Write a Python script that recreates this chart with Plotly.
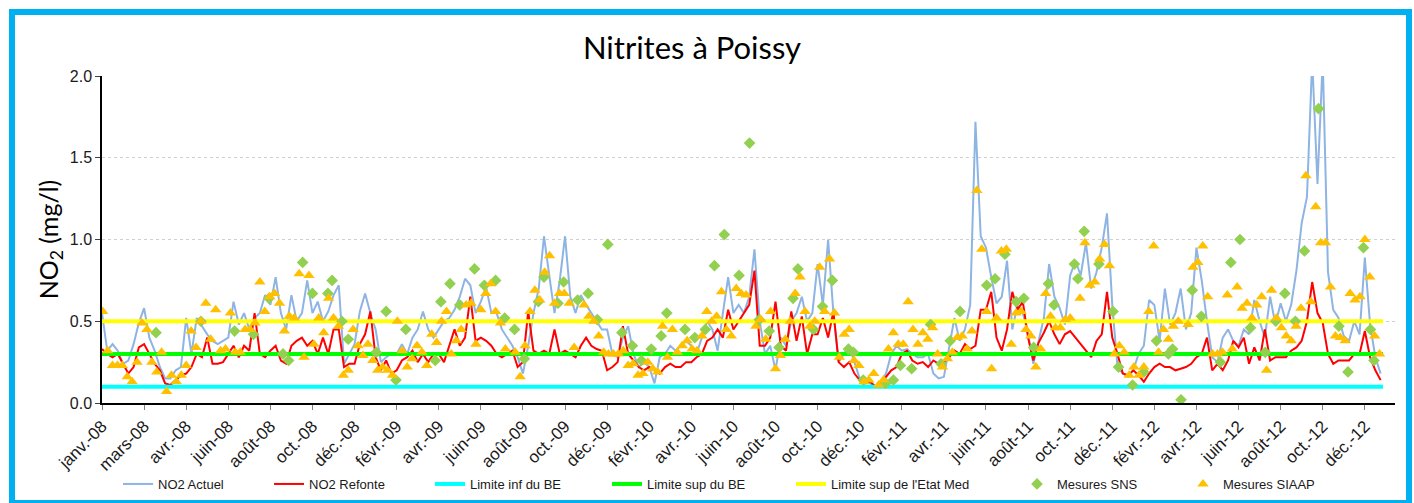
import pandas as pd
import plotly.graph_objects as go

# ---------------- DATA ----------------
start = pd.Timestamp("2008-01-01")

no2_actuel = [
    0.55, 0.32, 0.36, 0.32, 0.24, 0.26, 0.36, 0.49,
    0.58, 0.40, 0.32, 0.22, 0.15, 0.15, 0.20, 0.22,
    0.52, 0.30, 0.52, 0.47, 0.42, 0.38, 0.36, 0.38,
    0.40, 0.62, 0.48, 0.55, 0.45, 0.52, 0.55, 0.66,
    0.60, 0.77, 0.55, 0.45, 0.66, 0.50, 0.55, 0.75,
    0.55, 0.62, 0.50, 0.56, 0.66, 0.72, 0.24, 0.30,
    0.36, 0.56, 0.67, 0.55, 0.45, 0.25, 0.28, 0.30,
    0.30, 0.36, 0.30, 0.40, 0.45, 0.56, 0.45, 0.40,
    0.45, 0.50, 0.52, 0.57, 0.65, 0.76, 0.72, 0.55,
    0.62, 0.71, 0.55, 0.55, 0.45, 0.40, 0.35, 0.28,
    0.18, 0.35, 0.55, 0.70, 1.02, 0.78, 0.55, 0.75,
    1.02, 0.65, 0.55, 0.66, 0.60, 0.55, 0.50, 0.45,
    0.45, 0.30, 0.28, 0.40, 0.47, 0.30, 0.22, 0.25,
    0.22, 0.12, 0.28, 0.30, 0.35, 0.32, 0.35, 0.38,
    0.35, 0.30, 0.40, 0.50, 0.45, 0.32, 0.55, 0.77,
    0.55, 0.60, 0.55, 0.65, 0.94, 0.50, 0.30, 0.35,
    0.20, 0.40, 0.35, 0.50, 0.55, 0.65, 0.50, 0.55,
    0.85, 0.60, 1.00, 0.55, 0.25, 0.30, 0.35, 0.25,
    0.15, 0.14, 0.12, 0.10, 0.13, 0.18, 0.30, 0.35,
    0.32, 0.33, 0.30, 0.28, 0.28, 0.30, 0.18, 0.15,
    0.16, 0.35, 0.52, 0.38, 0.45, 0.60, 1.72, 1.02,
    0.95, 0.77, 0.61, 0.65, 0.87, 0.45, 0.60, 0.55,
    0.42, 0.24, 0.38, 0.52, 0.85, 0.65, 0.58, 0.48,
    0.78, 0.87, 0.78, 0.98, 0.70, 0.80, 0.95, 1.16,
    0.60, 0.22, 0.18, 0.16, 0.20, 0.30, 0.35, 0.63,
    0.60, 0.38, 0.70, 0.48, 0.55, 0.70, 0.45, 0.55,
    0.95, 0.75, 0.50, 0.28, 0.25, 0.40, 0.45, 0.38,
    0.35, 0.45, 0.42, 0.63, 0.50, 0.40, 0.65, 0.48,
    0.61, 0.50, 0.60, 0.81, 1.10, 1.26, 2.10, 1.34,
    2.10, 0.80, 0.57, 0.52, 0.41, 0.38, 0.50, 0.42,
    0.89, 0.48, 0.28, 0.18,
]

no2_refonte = [
    0.33, 0.30, 0.28, 0.30, 0.24, 0.18, 0.22, 0.34,
    0.36, 0.30, 0.24, 0.20, 0.12, 0.11, 0.14, 0.17,
    0.18, 0.22, 0.30, 0.28, 0.40, 0.24, 0.24, 0.25,
    0.30, 0.35, 0.28, 0.35, 0.32, 0.55, 0.30, 0.28,
    0.32, 0.35, 0.26, 0.24, 0.35, 0.38, 0.40, 0.35,
    0.38, 0.30, 0.40, 0.30, 0.45, 0.45, 0.22, 0.24,
    0.24, 0.36, 0.42, 0.56, 0.28, 0.20, 0.26, 0.18,
    0.20, 0.26, 0.28, 0.32, 0.25, 0.30, 0.25, 0.30,
    0.30, 0.25, 0.35, 0.45, 0.35, 0.40, 0.65, 0.38,
    0.40, 0.38, 0.35, 0.30, 0.28, 0.30, 0.32, 0.22,
    0.25, 0.56, 0.32, 0.30, 0.32, 0.30, 0.45, 0.30,
    0.32, 0.30, 0.28, 0.35, 0.40, 0.35, 0.33, 0.32,
    0.20, 0.22, 0.25, 0.47, 0.30, 0.26, 0.22, 0.20,
    0.22, 0.20, 0.18, 0.22, 0.24, 0.22, 0.22, 0.25,
    0.25, 0.28, 0.30, 0.38, 0.40, 0.45, 0.40, 0.57,
    0.45, 0.50, 0.55, 0.60, 0.81, 0.35, 0.35, 0.40,
    0.62, 0.35, 0.32, 0.56, 0.38, 0.53, 0.30, 0.42,
    0.42, 0.52, 0.40, 0.56, 0.25, 0.22, 0.25, 0.18,
    0.14, 0.12, 0.13, 0.10, 0.12, 0.16, 0.20, 0.22,
    0.30, 0.32, 0.26, 0.24, 0.25, 0.22, 0.26, 0.24,
    0.25, 0.28, 0.32, 0.30, 0.36, 0.33, 0.35, 0.57,
    0.57, 0.68, 0.40, 0.32, 0.45, 0.68, 0.57, 0.62,
    0.40, 0.26, 0.37, 0.43, 0.50, 0.42, 0.36, 0.42,
    0.44, 0.40, 0.36, 0.32, 0.28, 0.38, 0.42, 0.68,
    0.40, 0.30, 0.18, 0.17, 0.20, 0.17, 0.13, 0.18,
    0.22, 0.24, 0.22, 0.22, 0.20, 0.21, 0.22, 0.24,
    0.28, 0.30, 0.40, 0.20, 0.24, 0.20, 0.26, 0.38,
    0.34, 0.40, 0.24, 0.34, 0.26, 0.45, 0.26, 0.28,
    0.28, 0.28, 0.32, 0.34, 0.38, 0.50, 0.74, 0.55,
    0.49, 0.30, 0.24, 0.26, 0.26, 0.26, 0.30, 0.30,
    0.44, 0.28, 0.20, 0.14,
]

# SIAAP weekly measurements from 2008-01-02 (None = no reading)
siaap_values = [
    0.56, 0.32, 0.23, 0.23, 0.23, 0.16, 0.13, 0.25, 0.49, 0.45,
    0.25, 0.19, 0.31, 0.07, 0.17, 0.13, 0.17, 0.23, 0.44, 0.34,
    0.50, 0.61, 0.39, 0.57, 0.32, 0.33, 0.55, 0.31, 0.31, 0.45,
    0.45, 0.49, 0.74, 0.56, 0.65, 0.67, 0.61, 0.44, 0.53, 0.52,
    0.79, 0.28, 0.78, 0.36, 0.52, 0.43, 0.64, 0.52, 0.47, 0.17,
    0.20, 0.45, 0.35, 0.29, 0.36, 0.26, 0.20, 0.22, 0.20, 0.17,
    0.50, 0.32, 0.22, 0.27, 0.35, 0.31, 0.23, 0.42, 0.37, 0.50,
    0.56, 0.30, 0.38, 0.45, 0.60, 0.61, 0.36, 0.57, 0.67, 0.73,
    0.56, 0.49, 0.33, None, 0.31, 0.16, 0.35, 0.56, 0.69, 0.63,
    0.80, 0.90, 0.61, 0.67, 0.67, 0.61, 0.34, None, 0.60, 0.53,
    0.50, 0.41, 0.31, 0.30, 0.30, 0.30, 0.32, 0.23, 0.24, 0.17,
    0.18, 0.25, 0.21, 0.19, 0.47, 0.28, 0.45, 0.31, 0.35, 0.38,
    0.33, 0.32, 0.41, 0.56, 0.50, 0.53, 0.68, 0.45, 0.41, 0.70,
    0.67, 0.66, None, 0.47, 0.51, 0.39, 0.56, 0.21, 0.29, 0.39,
    0.50, 0.67, 0.77, 0.56, 0.47, 0.50, 0.83, 0.56, 0.88, 0.55,
    0.28, 0.42, 0.45, 0.26, 0.23, 0.13, 0.14, 0.18, 0.11, 0.14,
    0.33, 0.43, 0.36, 0.36, 0.62, 0.45, 0.36, 0.43, 0.39, 0.46,
    0.30, 0.22, 0.27, 0.31, 0.40, 0.41, 0.33, 0.44, 1.30, 0.94,
    0.56, 0.21, 0.52, 0.93, 0.94, 0.36, 0.55, 0.56, 0.45, 0.41,
    0.22, 0.33, 0.67, 0.53, 0.46, 0.46, 0.51, 0.52, None, 0.64,
    0.98, 0.72, 0.74, 0.88, 0.97, 0.84, 0.30, 0.35, 0.31, 0.17,
    0.22, 0.17, 0.22, 0.56, 0.96, 0.31, 0.45, 0.39, 0.47, 0.50,
    None, 0.48, 0.83, 0.86, 0.96, 0.65, 0.30, 0.30, 0.31, 0.66,
    0.33, 0.71, 0.58, 0.61, 0.52, 0.60, 0.65, 0.20, 0.69, 0.52,
    0.46, 0.41, 0.38, 0.47, 0.58, 1.39, 0.62, 1.20, 0.98, 0.98,
    0.71, 0.41, 0.40, 0.38, 0.67, 0.63, 0.65, 1.00, 0.77, 0.41,
    0.30,
]

# SNS measurements: day number since 2008-01-01 and value
sns_days = [
    77, 141, 189, 216, 238, 258, 266, 286, 300, 322, 328, 342, 351,
    391, 405, 419, 433, 475, 483, 496, 510, 531, 545, 561, 574, 588, 602,
    622, 630, 650, 658, 678, 693, 706, 721,
    741, 756, 769, 783, 797, 805, 831, 845, 860, 873, 887, 908, 923, 937,
    951, 965, 985, 992, 1014, 1027, 1041, 1064, 1071, 1085,
    1117, 1128, 1138, 1154, 1181, 1196, 1209, 1223, 1261, 1273, 1287, 1303,
    1314, 1328, 1349, 1357, 1386, 1391, 1400, 1421, 1441, 1449,
    1469, 1485, 1503, 1520, 1526, 1538, 1554, 1567, 1594, 1609, 1622, 1637,
    1658, 1673, 1686, 1701, 1714, 1734, 1763, 1776, 1798, 1808, 1813,
]
sns_values = [
    0.43, 0.50, 0.44, 0.42, 0.64, 0.30, 0.26, 0.86, 0.67, 0.67, 0.75, 0.50, 0.39,
    0.31, 0.56, 0.14, 0.45, 0.26, 0.62, 0.73, 0.60, 0.82, 0.72, 0.75, 0.52, 0.45, 0.27,
    0.62, 0.77, 0.61, 0.74, 0.63, 0.67, 0.51, 0.97,
    0.43, 0.35, 0.26, 0.33, 0.41, 0.55, 0.45, 0.40, 0.45, 0.84, 1.03, 0.78, 1.59, 0.51,
    0.44, 0.34, 0.64, 0.82, 0.45, 0.59, 0.75, 0.33, 0.31, 0.14,
    0.12, 0.14, 0.23, 0.21, 0.48, 0.24, 0.38, 0.56, 0.72, 0.76, 0.91, 0.62,
    0.64, 0.34, 0.73, 0.60, 0.85, 0.76, 1.05, 0.85, 0.56, 0.22,
    0.11, 0.19, 0.38, 0.30, 0.33, 0.02, 0.69, 0.53, 0.25, 0.86, 1.00, 0.46,
    0.31, 0.50, 0.67, 0.50, 0.93, 1.80, 0.47, 0.19, 0.95, 0.45, 0.26,
]

limite_inf_be = 0.1
limite_sup_be = 0.3
limite_sup_etat_med = 0.5
limit_period = ["2008-01-01", "2012-12-31"]

tick_labels = [
    "janv.-08", "mars-08", "avr.-08", "juin-08", "août-08", "oct.-08", "déc.-08",
    "févr.-09", "avr.-09", "juin-09", "août-09", "oct.-09", "déc.-09",
    "févr.-10", "avr.-10", "juin-10", "août-10", "oct.-10", "déc.-10",
    "févr.-11", "avr.-11", "juin-11", "août-11", "oct.-11", "déc.-11",
    "févr.-12", "avr.-12", "juin-12", "août-12", "oct.-12", "déc.-12",
]

# ---------------- BUILD ----------------
line_dates = pd.date_range(start, periods=len(no2_actuel), freq="180h")
siaap_dates = pd.date_range("2008-01-02", periods=len(siaap_values), freq="7D")
sns_dates = start + pd.to_timedelta(sns_days, unit="D")
tick_dates = [start + pd.Timedelta(days=60 * i) for i in range(len(tick_labels))]

W, H = 1414, 503
ML, MR, MT, MB = 102, 19, 76, 100
PW, PH = W - ML - MR, H - MT - MB


def px_x(px):
    return (px - ML) / PW


def px_y(py):
    return (H - MB - py) / PH


fig = go.Figure()

fig.add_trace(go.Scatter(x=line_dates, y=no2_actuel, mode="lines", name="NO2 Actuel",
                         line=dict(color="#8EB4E3", width=2), legend="legend"))
fig.add_trace(go.Scatter(x=line_dates, y=no2_refonte, mode="lines", name="NO2 Refonte",
                         line=dict(color="#FF0000", width=2), legend="legend2"))
fig.add_trace(go.Scatter(x=limit_period, y=[limite_inf_be] * 2, mode="lines",
                         name="Limite inf du BE", line=dict(color="#00FFFF", width=4),
                         legend="legend3"))
fig.add_trace(go.Scatter(x=limit_period, y=[limite_sup_be] * 2, mode="lines",
                         name="Limite sup du BE", line=dict(color="#00FF00", width=4),
                         legend="legend4"))
fig.add_trace(go.Scatter(x=limit_period, y=[limite_sup_etat_med] * 2, mode="lines",
                         name="Limite sup de l'Etat Med", line=dict(color="#FFFF00", width=4),
                         legend="legend5"))
fig.add_trace(go.Scatter(x=sns_dates, y=sns_values, mode="markers", name="Mesures SNS",
                         marker=dict(symbol="diamond", size=9, color="#92D050"),
                         legend="legend6"))
fig.add_trace(go.Scatter(x=siaap_dates, y=siaap_values, mode="markers", name="Mesures SIAAP",
                         marker=dict(symbol="triangle-up", size=10, color="#FFC000"),
                         legend="legend7"))

legend_font = dict(family="Liberation Sans, Arial, sans-serif", size=13, color="#1a1a1a")
legend_text_starts = [158, 309, 470, 647, 831, 1057, 1223]
legend_layout = {}
for i, tx in enumerate(legend_text_starts):
    key = "legend" if i == 0 else f"legend{i + 1}"
    legend_layout[key] = dict(
        xref="container", yref="container", x=(tx - 40) / W, y=1 - 484 / H,
        xanchor="left", yanchor="middle", orientation="h",
        bgcolor="rgba(0,0,0,0)", borderwidth=0, font=legend_font,
        itemclick=False, itemdoubleclick=False,
    )

fig.update_layout(
    width=W, height=H,
    margin=dict(l=ML, r=MR, t=MT, b=MB, autoexpand=False),
    paper_bgcolor="white", plot_bgcolor="white",
    title=dict(text="Nitrites à Poissy", x=692 / W, xref="container", xanchor="center",
               y=1 - 48 / H, yref="container", yanchor="middle",
               font=dict(family="Lato, Carlito, sans-serif", size=31, color="#000000")),
    showlegend=True,
    **legend_layout,
)

fig.update_xaxes(
    type="date", range=["2008-01-01", "2013-01-17"],
    tickmode="array", tickvals=tick_dates, ticktext=tick_labels, tickangle=-45,
    tickfont=dict(family="Liberation Sans, Arial, sans-serif", size=17, color="#1a1a1a"),
    ticks="outside", ticklen=5, tickcolor="#808080",
    showline=True, linecolor="#000000", linewidth=1.5,
    showgrid=False, zeroline=False,
)
fig.update_yaxes(
    range=[0, 2], tickmode="array", tickvals=[0, 0.5, 1.0, 1.5, 2.0],
    ticktext=["0.0", "0.5", "1.0", "1.5", "2.0"],
    tickfont=dict(family="Liberation Sans, Arial, sans-serif", size=16, color="#1a1a1a"),
    ticks="outside", ticklen=5, tickcolor="#404040",
    showline=True, linecolor="#000000", linewidth=1.5,
    showgrid=True, gridcolor="#D0D0D0", griddash="dot", gridwidth=1,
    zeroline=False,
    title=dict(text="NO<sub>2</sub> (mg/l)", standoff=4,
               font=dict(family="Lato, Carlito, sans-serif", size=25, color="#000000")),
)

# outer blue frame
fig.add_shape(type="rect", xref="paper", yref="paper",
              x0=px_x(12), x1=px_x(1409), y0=px_y(503), y1=px_y(12),
              line=dict(color="#00B0F0", width=6), fillcolor="rgba(0,0,0,0)", layer="above")

fig.write_html("out.html",
               config={"displayModeBar": False},
               post_script="document.body.style.margin='0';document.body.style.overflow='hidden';")
